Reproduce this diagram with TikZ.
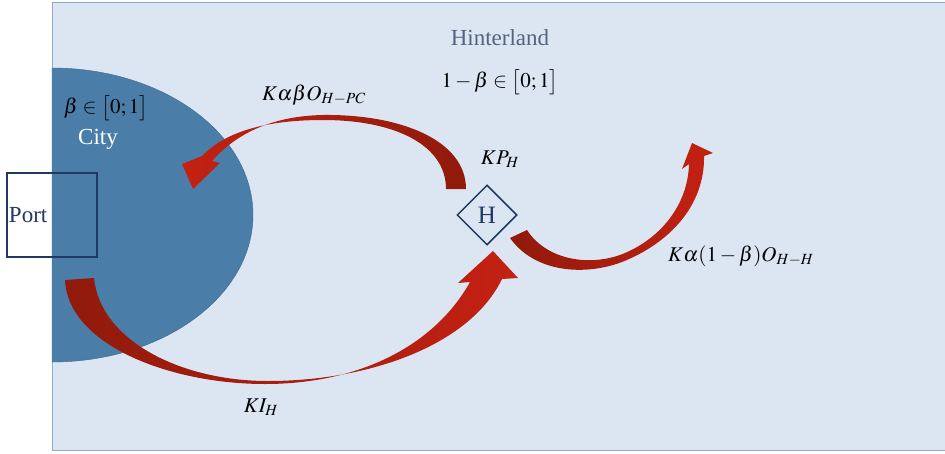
\documentclass[tikz,border=0pt]{standalone}
\usepackage{mathptmx}
\usepackage{fontspec}
\setmainfont{Liberation Serif}
\usetikzlibrary{shapes.geometric}
\definecolor{landfill}{HTML}{DCE6F2}
\definecolor{landline}{HTML}{93A9CC}
\definecolor{cityfill}{HTML}{4A7EA9}
\definecolor{cityline}{HTML}{3C6890}
\definecolor{navy}{HTML}{1F3864}
\definecolor{landtext}{HTML}{526480}
\definecolor{flowdark}{HTML}{901A0B}
\definecolor{flowlight}{HTML}{C42112}

\begin{document}
\begin{tikzpicture}[x=1pt,y=-1pt,
  txt/.style={font=\fontsize{23}{27}\selectfont,inner sep=0pt},
  lbl/.style={font=\fontsize{21}{25}\selectfont,inner sep=0pt},
  flow/.style={shading=axis,draw=none}]
\useasboundingbox (0,0) rectangle (945,453);
% hinterland and city
\draw[landline,fill=landfill] (52,2) rectangle (960,450);
\draw[cityline,fill=cityfill] (52,68) arc[start angle=-90,end angle=90,x radius=201,y radius=147] -- cycle;
\node[txt,text=landtext] (hinterland) at (500,38) {Hinterland};
\node[lbl] (hshare) at (500,82) {$1-\beta\in\bigl[0;1\bigr]$};
\node[lbl] (cshare) at (106,108) {$\beta\in\bigl[0;1\bigr]$};
\node[txt,text=white] (city) at (98,139) {City};
\node[txt,text=navy,draw=navy,line width=2pt,minimum width=90pt,minimum height=84pt,
  text width=86pt,align=left] (port) at (52,215) {Port};
\node[diamond,font=\fontsize{25}{29}\selectfont,inner sep=0pt,text=navy,draw=navy,
  line width=1.5pt,minimum width=60pt,minimum height=60pt] (hub) at (487,215) {H};
% flow labels
\node[lbl] (kab) at (314,95) {$K\alpha\beta O_{H-PC}$};
\node[lbl] (kph) at (500,159) {$KP_H$};
\node[lbl] (kih) at (261,407) {$KI_H$};
\node[lbl] (kah) at (741,256) {$K\alpha(1-\beta)O_{H-H}$};
% flows
\shade[flow,left color=flowlight,right color=flowdark] (446,189) -- (466,189)
  .. controls (466,140) and (400,114) .. (323,115)
  .. controls (270,116) and (235,135) .. (212,161)
  -- (220,163) -- (193,189) -- (182,164) -- (202,156)
  .. controls (225,132) and (265,120) .. (323,120)
  .. controls (395,120) and (446,145) .. (446,189) -- cycle;
\shade[flow,left color=flowdark,right color=flowlight] (65,280)
  .. controls (68,345) and (170,384) .. (265,384)
  .. controls (360,384) and (435,345) .. (470,282)
  -- (458,283) -- (493,251) -- (518,278) -- (502,279)
  .. controls (470,345) and (370,381) .. (268,381)
  .. controls (180,381) and (100,340) .. (94,278) -- cycle;
\shade[flow,left color=flowdark,right color=flowlight] (510,238)
  .. controls (535,273) and (585,276) .. (622,262)
  .. controls (670,243) and (705,205) .. (704,156)
  -- (713,153) -- (692,143) -- (682,169) -- (689,164)
  .. controls (688,205) and (660,240) .. (620,255)
  .. controls (585,267) and (545,258) .. (527,230) -- cycle;
\end{tikzpicture}
\end{document}
